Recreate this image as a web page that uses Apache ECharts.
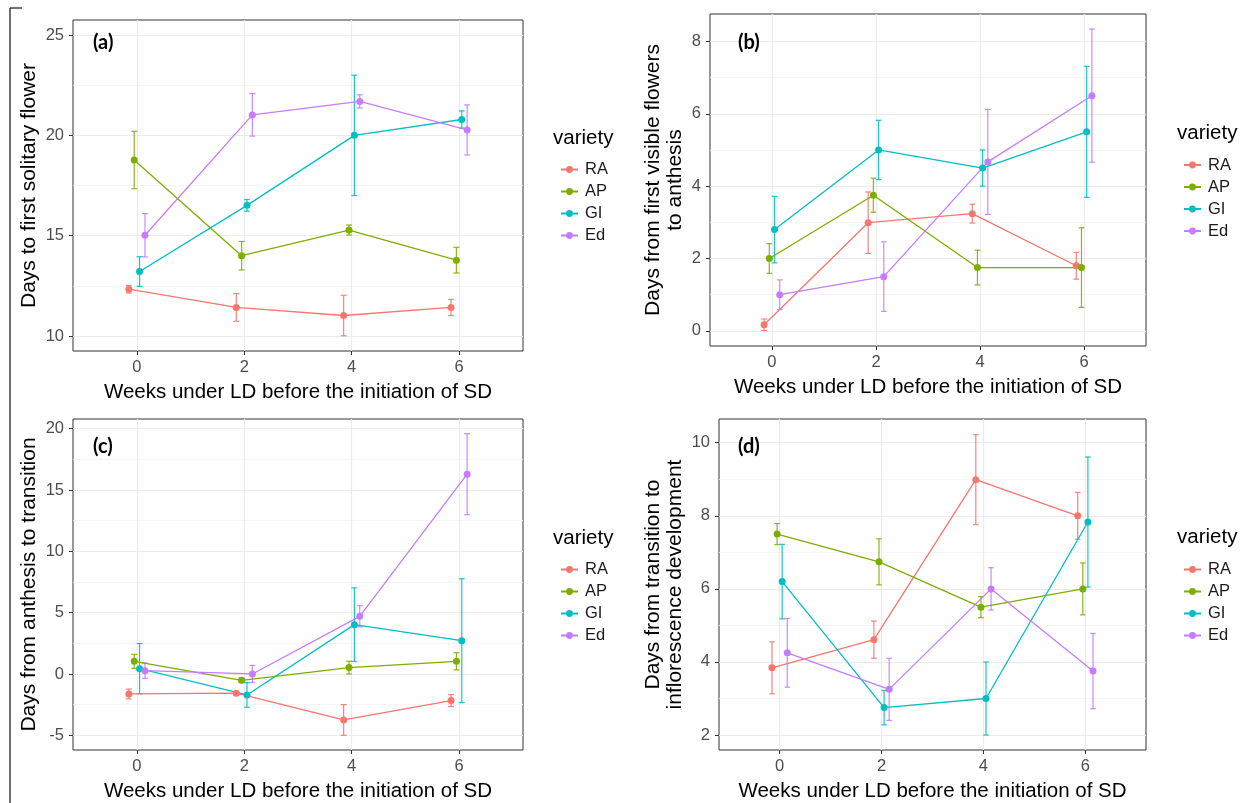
<!DOCTYPE html>
<html>
<head>
<meta charset="utf-8">
<script src="https://cdn.jsdelivr.net/npm/echarts@6/dist/echarts.min.js"></script>
<style>
html,body{margin:0;padding:0;background:#ffffff;}
#chart{width:1247px;height:803px;}
</style>
</head>
<body>
<div id="chart"></div>
<script>
// ---------------- DATA ----------------
const weeks = [0, 2, 4, 6];
const varieties = ['RA', 'AP', 'GI', 'Ed'];
const xTicks = [0, 2, 4, 6];
const xTitle = 'Weeks under LD before the initiation of SD';
const legendTitle = 'variety';

// (a) Days to first solitary flower
const aTitle = 'Days to first solitary flower';
const aTicks = [10, 15, 20, 25];
const aMinor = [12.5, 17.5, 22.5];
const aMeanRA = [12.33, 11.42, 11.02, 11.42];
const aErrRA  = [0.19, 0.69, 1.01, 0.40];
const aMeanAP = [18.77, 14.00, 15.28, 13.78];
const aErrAP  = [1.43, 0.71, 0.25, 0.64];
const aMeanGI = [13.21, 16.51, 20.00, 20.79];
const aErrGI  = [0.74, 0.29, 3.00, 0.43];
const aMeanEd = [15.02, 21.02, 21.69, 20.27];
const aErrEd  = [1.08, 1.06, 0.33, 1.25];

// (b) Days from first visible flowers to anthesis
const bTitle = 'Days from first visible flowers\nto anthesis';
const bTicks = [0, 2, 4, 6, 8];
const bMinor = [1, 3, 5, 7];
const bMeanRA = [0.17, 2.99, 3.24, 1.80];
const bErrRA  = [0.16, 0.85, 0.26, 0.37];
const bMeanAP = [2.00, 3.75, 1.75, 1.75];
const bErrAP  = [0.41, 0.47, 0.48, 1.10];
const bMeanGI = [2.80, 5.00, 4.50, 5.50];
const bErrGI  = [0.92, 0.82, 0.50, 1.81];
const bMeanEd = [1.00, 1.50, 4.67, 6.50];
const bErrEd  = [0.41, 0.96, 1.45, 1.84];

// (c) Days from anthesis to transition
const cTitle = 'Days from anthesis to transition';
const cTicks = [-5, 0, 5, 10, 15, 20];
const cMinor = [-2.5, 2.5, 7.5, 12.5, 17.5];
const cMeanRA = [-1.63, -1.57, -3.75, -2.17];
const cErrRA  = [0.40, 0.14, 1.25, 0.49];
const cMeanAP = [1.03, -0.52, 0.52, 1.03];
const cErrAP  = [0.57, 0.19, 0.52, 0.70];
const cMeanGI = [0.43, -1.71, 4.02, 2.71];
const cErrGI  = [2.05, 1.00, 3.00, 5.05];
const cMeanEd = [0.27, 0.00, 4.70, 16.29];
const cErrEd  = [0.62, 0.70, 0.86, 3.30];

// (d) Days from transition to inflorescence development
const dTitle = 'Days from transition to\ninflorescence development';
const dTicks = [2, 4, 6, 8, 10];
const dMinor = [3, 5, 7, 9];
const dMeanRA = [3.84, 4.61, 8.99, 8.00];
const dErrRA  = [0.71, 0.51, 1.23, 0.64];
const dMeanAP = [7.50, 6.74, 5.50, 6.00];
const dErrAP  = [0.29, 0.63, 0.29, 0.71];
const dMeanGI = [6.20, 2.75, 3.00, 7.83];
const dErrGI  = [1.02, 0.47, 1.00, 1.78];
const dMeanEd = [4.25, 3.25, 6.00, 3.75];
const dErrEd  = [0.94, 0.85, 0.58, 1.03];

// ---------------- STYLE / LAYOUT ----------------
const FONT = "'Liberation Sans', Arial, sans-serif";
const colors = ['#F8766D', '#7CAE00', '#00BFC4', '#C77CFF'];
const dodge = [-0.15, -0.05, 0.05, 0.15];
const capHalf = 0.055;

const panels = [
  {tag: '(a)', title: aTitle, ticks: aTicks, minor: aMinor, min: 9.25, max: 25.75,
   mean: [aMeanRA, aMeanAP, aMeanGI, aMeanEd], err: [aErrRA, aErrAP, aErrGI, aErrEd]},
  {tag: '(b)', title: bTitle, ticks: bTicks, minor: bMinor, min: -0.417, max: 8.757,
   mean: [bMeanRA, bMeanAP, bMeanGI, bMeanEd], err: [bErrRA, bErrAP, bErrGI, bErrEd]},
  {tag: '(c)', title: cTitle, ticks: cTicks, minor: cMinor, min: -6.2, max: 20.79,
   mean: [cMeanRA, cMeanAP, cMeanGI, cMeanEd], err: [cErrRA, cErrAP, cErrGI, cErrEd]},
  {tag: '(d)', title: dTitle, ticks: dTicks, minor: dMinor, min: 1.59, max: 10.65,
   mean: [dMeanRA, dMeanAP, dMeanGI, dMeanEd], err: [dErrRA, dErrAP, dErrGI, dErrEd]}
];

const geom = [
  {grid: {left: 73, top: 20, width: 450, height: 331}, yGap: 33, xGap: 31,
   legend: {left: 555, top: 156}, lt: {left: 553, top: 128}, tag: {left: 93, top: 33}},
  {grid: {left: 710, top: 14, width: 436, height: 332}, yGap: 24, xGap: 31,
   legend: {left: 1178, top: 151.5}, lt: {left: 1177, top: 123}, tag: {left: 738, top: 33}},
  {grid: {left: 73, top: 419, width: 450, height: 332}, yGap: 33, xGap: 31,
   legend: {left: 555, top: 556}, lt: {left: 553, top: 528}, tag: {left: 93, top: 437}},
  {grid: {left: 719, top: 419, width: 427, height: 332}, yGap: 33, xGap: 31,
   legend: {left: 1178, top: 556}, lt: {left: 1177, top: 527}, tag: {left: 738, top: 437}}
];

function errRender(params, api) {
  const x = api.value(0), lo = api.value(1), hi = api.value(2);
  const pLo = api.coord([x, lo]);
  const pHi = api.coord([x, hi]);
  const half = api.coord([x + capHalf, lo])[0] - pLo[0];
  const style = {stroke: api.visual('color'), lineWidth: 1.2, opacity: 0.9};
  return {
    type: 'group',
    children: [
      {type: 'line', shape: {x1: pLo[0], y1: pLo[1], x2: pHi[0], y2: pHi[1]}, style: style},
      {type: 'line', shape: {x1: pLo[0] - half, y1: pLo[1], x2: pLo[0] + half, y2: pLo[1]}, style: style},
      {type: 'line', shape: {x1: pHi[0] - half, y1: pHi[1], x2: pHi[0] + half, y2: pHi[1]}, style: style}
    ]
  };
}

const grid = geom.map(g => Object.assign({show: true, borderColor: '#333333', borderWidth: 1, backgroundColor: 'transparent'}, g.grid));

const xAxis = panels.map((p, i) => ({
  type: 'value', gridIndex: i, min: -1.19, max: 7.19,
  name: xTitle, nameLocation: 'middle', nameGap: geom[i].xGap,
  nameTextStyle: {fontSize: 20.5, color: '#000000', fontFamily: FONT},
  axisLine: {show: false, onZero: false},
  axisTick: {show: true, customValues: xTicks, length: 4, lineStyle: {color: '#333333', width: 1}},
  axisLabel: {customValues: xTicks, margin: 8, fontSize: 16.5, color: '#4d4d4d', fontFamily: FONT},
  splitLine: {show: true, lineStyle: {color: '#ebebeb', width: 1.2}}
}));

const yAxis = panels.map((p, i) => ({
  type: 'value', gridIndex: i, min: p.min, max: p.max,
  name: p.title, nameLocation: 'middle', nameGap: geom[i].yGap,
  nameTextStyle: {fontSize: 21, color: '#000000', fontFamily: FONT, lineHeight: 22},
  axisLine: {show: false, onZero: false},
  axisTick: {show: true, customValues: p.ticks, length: 4, lineStyle: {color: '#333333', width: 1}},
  axisLabel: {customValues: p.ticks, margin: 9, fontSize: 16.5, color: '#4d4d4d', fontFamily: FONT},
  splitLine: {show: true, lineStyle: {color: '#ebebeb', width: 1.2}}
})).concat(panels.map((p, i) => ({
  type: 'value', gridIndex: i, min: p.min, max: p.max, position: 'left',
  axisLine: {show: false, onZero: false},
  axisTick: {show: false, customValues: p.minor},
  axisLabel: {show: false, customValues: p.minor},
  splitLine: {show: true, lineStyle: {color: '#f2f2f2', width: 0.8}}
})));

const series = [];
panels.forEach((p, pi) => {
  varieties.forEach((v, vi) => {
    const xs = weeks.map(w => w + dodge[vi]);
    series.push({
      type: 'custom', name: v + ' SE', xAxisIndex: pi, yAxisIndex: pi,
      data: xs.map((x, k) => [x, p.mean[vi][k] - p.err[vi][k], p.mean[vi][k] + p.err[vi][k]]),
      encode: {x: 0, y: [1, 2]}, renderItem: errRender,
      itemStyle: {color: colors[vi]}, silent: true, clip: false, z: 2
    });
    series.push({
      type: 'line', name: v, xAxisIndex: pi, yAxisIndex: pi,
      data: xs.map((x, k) => [x, p.mean[vi][k]]),
      symbol: 'circle', symbolSize: 7, showSymbol: true,
      lineStyle: {width: 1.3, color: colors[vi]}, itemStyle: {color: colors[vi]},
      silent: true, z: 3
    });
  });
});

const legend = geom.map(g => ({
  orient: 'vertical', left: g.legend.left, top: g.legend.top,
  data: varieties, selectedMode: false,
  itemWidth: 17, itemHeight: 8.5, itemGap: 5,
  textStyle: {fontSize: 16.5, color: '#1a1a1a', fontFamily: FONT, padding: [0, 0, 0, 2]}
}));

const graphic = [];
panels.forEach((p, i) => {
  graphic.push({type: 'text', left: geom[i].tag.left, top: geom[i].tag.top, z: 100,
    style: {text: p.tag, font: "bold 20px Lato, 'Open Sans', sans-serif", fill: '#000000'}});
  graphic.push({type: 'text', left: geom[i].lt.left, top: geom[i].lt.top, z: 100,
    style: {text: legendTitle, font: "20.5px 'Liberation Sans', Arial, sans-serif", fill: '#000000'}});
});
graphic.push({type: 'line', z: 100, shape: {x1: 10, y1: 8, x2: 22, y2: 8}, style: {stroke: '#222222', lineWidth: 1.3}});
graphic.push({type: 'line', z: 100, shape: {x1: 10, y1: 8, x2: 10, y2: 803}, style: {stroke: '#222222', lineWidth: 1.3}});

const chart = echarts.init(document.getElementById('chart'), null, {renderer: 'canvas'});
chart.setOption({
  animation: false,
  backgroundColor: '#ffffff',
  textStyle: {fontFamily: FONT},
  grid: grid,
  xAxis: xAxis,
  yAxis: yAxis,
  legend: legend,
  graphic: graphic,
  series: series
});
</script>
</body>
</html>
